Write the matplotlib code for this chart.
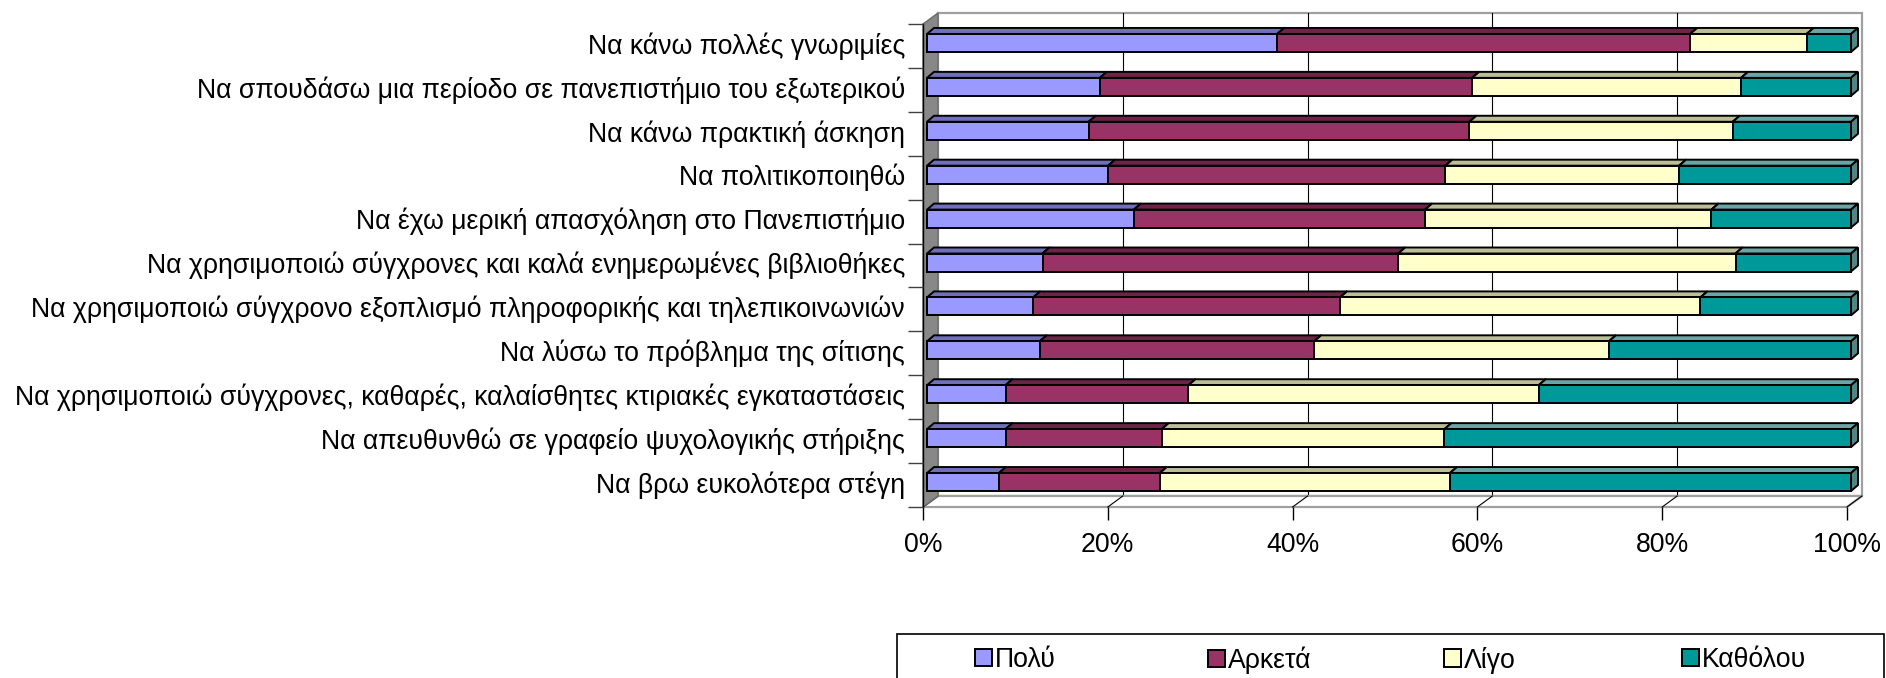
import matplotlib
matplotlib.use("Agg")
import matplotlib.pyplot as plt
from matplotlib.patches import Polygon, Rectangle
from matplotlib.transforms import ScaledTranslation
import numpy as np

plt.rcParams['font.family'] = ['Liberation Sans', 'DejaVu Sans']

categories = [
    "Να κάνω πολλές γνωριμίες",
    "Να σπουδάσω μια περίοδο σε πανεπιστήμιο του εξωτερικού",
    "Να κάνω πρακτική άσκηση",
    "Να πολιτικοποιηθώ",
    "Να έχω μερική απασχόληση στο Πανεπιστήμιο",
    "Να χρησιμοποιώ σύγχρονες και καλά ενημερωμένες βιβλιοθήκες",
    "Να χρησιμοποιώ σύγχρονο εξοπλισμό πληροφορικής και τηλεπικοινωνιών",
    "Να λύσω το πρόβλημα της σίτισης",
    "Να χρησιμοποιώ σύγχρονες, καθαρές, καλαίσθητες κτιριακές εγκαταστάσεις",
    "Να απευθυνθώ σε γραφείο ψυχολογικής στήριξης",
    "Να βρω ευκολότερα στέγη",
]

series_names = ["Πολύ", "Αρκετά", "Λίγο", "Καθόλου"]

poly = [37.9, 18.7, 17.5, 19.6, 22.4, 12.5, 11.5, 12.2, 8.5, 8.5, 7.8]
arketa = [44.7, 40.3, 41.2, 36.5, 31.5, 38.5, 33.2, 29.7, 19.8, 16.9, 17.4]
ligo = [12.6, 29.1, 28.5, 25.3, 31.0, 36.5, 39.0, 31.9, 37.9, 30.6, 31.4]
katholou = [4.8, 11.9, 12.8, 18.6, 15.1, 12.5, 16.3, 26.2, 33.8, 44.0, 43.4]

x_ticks = [0, 20, 40, 60, 80, 100]
x_tick_labels = ["0%", "20%", "40%", "60%", "80%", "100%"]

front_colors = ["#9999FF", "#993366", "#FFFFCC", "#009999"]
top_colors = ["#6f6fbb", "#6e2449", "#bdbd97", "#6aa6a6"]
side_colors = ["#5c5c9c", "#5a1d3c", "#9c9c7c", "#4f8585"]

W, H, DPI = 1886, 678, 100
fig = plt.figure(figsize=(W / DPI, H / DPI), dpi=DPI)
fig.patch.set_facecolor("white")

# front plane of the plot box, in pixels
left_px, right_px, top_px, bottom_px = 923, 1847, 24, 507
ax = fig.add_axes([left_px / W, 1 - bottom_px / H,
                   (right_px - left_px) / W, (bottom_px - top_px) / H])
n = len(categories)
ax.set_xlim(0, 100)
ax.set_ylim(n - 0.5, -0.5)
ax.set_facecolor("none")

# data units per pixel
ux = 100 / (right_px - left_px)
uy = n / (bottom_px - top_px)

# depth of the walls and of the bars (pixels)
wall_dx, wall_dy = 15 * ux, 11 * uy
bar_off_x, bar_off_y = 4 * ux, 3 * uy
bar_dx, bar_dy = 7 * ux, 6 * uy
bar_h = 18 * uy

y0, y1 = -0.5, n - 0.5

# back wall
ax.add_patch(Rectangle((wall_dx, y0 - wall_dy), 100, n, facecolor="white",
                       edgecolor="#a0a0a0", lw=1.6, clip_on=False, zorder=0.5))
for t in x_ticks[1:-1]:
    ax.plot([t + wall_dx, t + wall_dx], [y0 - wall_dy, y1 - wall_dy],
            color="black", lw=0.8, clip_on=False, zorder=0.6)

# floor
ax.add_patch(Polygon([(0, y1), (100, y1), (100 + wall_dx, y1 - wall_dy),
                      (wall_dx, y1 - wall_dy)], closed=True, facecolor="white",
                     edgecolor="#a0a0a0", lw=1.6, clip_on=False, zorder=0.7))
for t in x_ticks:
    ax.plot([t, t + wall_dx], [y1, y1 - wall_dy], color="black", lw=0.8,
            clip_on=False, zorder=0.8)

# left side wall
ax.add_patch(Polygon([(0, y0), (wall_dx, y0 - wall_dy), (wall_dx, y1 - wall_dy),
                      (0, y1)], closed=True, facecolor="#888888",
                     edgecolor="#6a6a6a", lw=1.0, clip_on=False, zorder=0.9))

# stacked 3D bars
data = np.array([poly, arketa, ligo, katholou])
ypos = np.arange(n)
lefts = np.zeros(n)
ec = "black"
lw = 1.4
for j, vals in enumerate(data):
    z = 3 + j
    for i in range(n):
        x0 = lefts[i] + bar_off_x
        x1 = x0 + vals[i]
        yt = ypos[i] - bar_h / 2 - bar_off_y
        yb = ypos[i] + bar_h / 2 - bar_off_y
        ax.add_patch(Polygon([(x0, yt), (x1, yt), (x1 + bar_dx, yt - bar_dy),
                              (x0 + bar_dx, yt - bar_dy)], closed=True,
                             facecolor=top_colors[j], edgecolor=ec, lw=lw,
                             clip_on=False, zorder=z, joinstyle="miter"))
        ax.add_patch(Polygon([(x1, yt), (x1, yb), (x1 + bar_dx, yb - bar_dy),
                              (x1 + bar_dx, yt - bar_dy)], closed=True,
                             facecolor=side_colors[j], edgecolor=ec, lw=lw,
                             clip_on=False, zorder=z, joinstyle="miter"))
    ax.barh(ypos - bar_off_y, vals, height=bar_h, left=lefts + bar_off_x,
            color=front_colors[j], edgecolor=ec, linewidth=lw,
            clip_on=False, zorder=z + 0.5, label=series_names[j])
    lefts = lefts + vals

# axes styling
for s in ["top", "right", "bottom"]:
    ax.spines[s].set_visible(False)
ax.spines["left"].set_color("black")
ax.spines["left"].set_linewidth(1.0)
ax.spines["left"].set_zorder(1)

fs = 19.2
ax.set_xticks(x_ticks)
ax.set_xticklabels(x_tick_labels, fontsize=fs)
ax.tick_params(axis="x", length=13 * 72 / DPI, width=1.0, color="black",
               pad=9, direction="out")

ax.set_yticks(ypos)
ax.set_yticklabels(categories, fontsize=fs)
ax.set_yticks(np.arange(-0.5, n, 1.0), minor=True)
ax.tick_params(axis="y", which="major", length=0, pad=13)
ax.tick_params(axis="y", which="minor", length=15 * 72 / DPI, width=1.0,
               color="#404040", direction="out")
shift = ScaledTranslation(0, 3 / DPI, fig.dpi_scale_trans)
for lab in ax.get_yticklabels():
    lab.set_transform(lab.get_transform() + shift)

# legend frame and entries
fig.add_artist(Rectangle((897 / W, -20 / H), (1884 - 897) / W, (678 + 20 - 634) / H,
                         transform=fig.transFigure, fill=False,
                         edgecolor="black", lw=1.2))
handles, labels = ax.get_legend_handles_labels()
legend_x = [975, 1208, 1444, 1682]
for h, l, x in zip(handles, labels, legend_x):
    fig.legend([h], [l], loc="center left", bbox_to_anchor=(x / W, 1 - 660 / H),
               frameon=False, borderpad=0, borderaxespad=0, fontsize=fs,
               handlelength=0.62, handleheight=0.62, handletextpad=0.12)

fig.savefig("out.png", dpi=DPI, facecolor="white")
